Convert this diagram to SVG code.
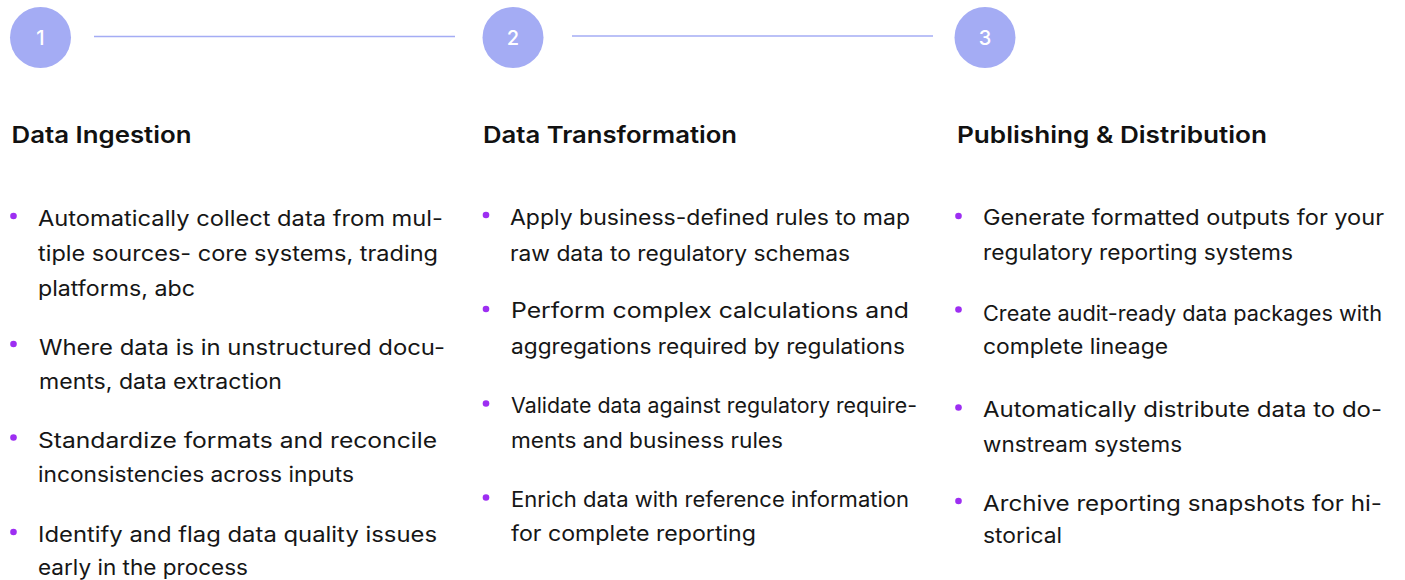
<svg xmlns="http://www.w3.org/2000/svg" width="1405" height="580" viewBox="0 0 1405 580">
<style>
.step{fill:#A4ACF4}
.num{fill:#ffffff;font-family:Inter,"Liberation Sans",sans-serif;font-size:20px;font-weight:500;text-anchor:middle}
.conn{stroke:#A4ACF4;stroke-width:1.6;fill:none}
.h{fill:#111111;font-family:Inter,"Liberation Sans",sans-serif;font-size:22.5px;font-weight:600}
.t{fill:#161616;font-family:Inter,"Liberation Sans",sans-serif;font-size:21px;font-weight:400}
.dot{fill:#9D2EF2}
</style>
<rect width="1405" height="580" fill="#ffffff"/>
<g id="connectors">
<line class="conn" x1="94" y1="36.5" x2="455" y2="36.5"/>
<line class="conn" x1="572" y1="36" x2="933" y2="36"/>
</g>
<g id="step1">
<circle class="step" cx="40.5" cy="37.5" r="30.5"/>
<text class="num" x="40.5" y="45">1</text>
<text class="h" x="11.5" y="143" textLength="180" lengthAdjust="spacingAndGlyphs">Data Ingestion</text>
<circle class="dot" cx="13.5" cy="216" r="3.3"/>
<text class="t" x="38" y="226" textLength="405" lengthAdjust="spacingAndGlyphs">Automatically collect data from mul-</text>
<text class="t" x="38" y="261" textLength="400" lengthAdjust="spacingAndGlyphs">tiple sources- core systems, trading</text>
<text class="t" x="38" y="296" textLength="157" lengthAdjust="spacingAndGlyphs">platforms, abc</text>
<circle class="dot" cx="13.5" cy="344" r="3.3"/>
<text class="t" x="39" y="355" textLength="406" lengthAdjust="spacingAndGlyphs">Where data is in unstructured docu-</text>
<text class="t" x="39" y="389" textLength="243" lengthAdjust="spacingAndGlyphs">ments, data extraction</text>
<circle class="dot" cx="13.5" cy="437.5" r="3.3"/>
<text class="t" x="38" y="448" textLength="399" lengthAdjust="spacingAndGlyphs">Standardize formats and reconcile</text>
<text class="t" x="38" y="482" textLength="316" lengthAdjust="spacingAndGlyphs">inconsistencies across inputs</text>
<circle class="dot" cx="13.5" cy="532" r="3.3"/>
<text class="t" x="38" y="542" textLength="399" lengthAdjust="spacingAndGlyphs">Identify and flag data quality issues</text>
<text class="t" x="38" y="575" textLength="210" lengthAdjust="spacingAndGlyphs">early in the process</text>
</g>
<g id="step2">
<circle class="step" cx="513" cy="37.5" r="30.5"/>
<text class="num" x="513" y="45">2</text>
<text class="h" x="483" y="143" textLength="254" lengthAdjust="spacingAndGlyphs">Data Transformation</text>
<circle class="dot" cx="486" cy="215" r="3.3"/>
<text class="t" x="510" y="225" textLength="400" lengthAdjust="spacingAndGlyphs">Apply business-defined rules to map</text>
<text class="t" x="510" y="261" textLength="340" lengthAdjust="spacingAndGlyphs">raw data to regulatory schemas</text>
<circle class="dot" cx="486" cy="309" r="3.3"/>
<text class="t" x="511" y="318" textLength="398" lengthAdjust="spacingAndGlyphs">Perform complex calculations and</text>
<text class="t" x="511" y="354" textLength="394" lengthAdjust="spacingAndGlyphs">aggregations required by regulations</text>
<circle class="dot" cx="486" cy="403.5" r="3.3"/>
<text class="t" x="511" y="413" textLength="406" lengthAdjust="spacingAndGlyphs">Validate data against regulatory require-</text>
<text class="t" x="511" y="448" textLength="272" lengthAdjust="spacingAndGlyphs">ments and business rules</text>
<circle class="dot" cx="486" cy="497.5" r="3.3"/>
<text class="t" x="511" y="507" textLength="398" lengthAdjust="spacingAndGlyphs">Enrich data with reference information</text>
<text class="t" x="511" y="541" textLength="245" lengthAdjust="spacingAndGlyphs">for complete reporting</text>
</g>
<g id="step3">
<circle class="step" cx="985" cy="37.5" r="30.5"/>
<text class="num" x="985" y="45">3</text>
<text class="h" x="957" y="143" textLength="310" lengthAdjust="spacingAndGlyphs">Publishing &amp; Distribution</text>
<circle class="dot" cx="958.5" cy="216" r="3.3"/>
<text class="t" x="983" y="225" textLength="401" lengthAdjust="spacingAndGlyphs">Generate formatted outputs for your</text>
<text class="t" x="983" y="260" textLength="310" lengthAdjust="spacingAndGlyphs">regulatory reporting systems</text>
<circle class="dot" cx="958.5" cy="309.5" r="3.3"/>
<text class="t" x="983" y="321" textLength="399" lengthAdjust="spacingAndGlyphs">Create audit-ready data packages with</text>
<text class="t" x="983" y="354" textLength="185" lengthAdjust="spacingAndGlyphs">complete lineage</text>
<circle class="dot" cx="958.5" cy="407.5" r="3.3"/>
<text class="t" x="983" y="417" textLength="399" lengthAdjust="spacingAndGlyphs">Automatically distribute data to do-</text>
<text class="t" x="983" y="452" textLength="199" lengthAdjust="spacingAndGlyphs">wnstream systems</text>
<circle class="dot" cx="958.5" cy="501" r="3.3"/>
<text class="t" x="983" y="511" textLength="399" lengthAdjust="spacingAndGlyphs">Archive reporting snapshots for hi-</text>
<text class="t" x="983" y="543" textLength="79" lengthAdjust="spacingAndGlyphs">storical</text>
</g>
</svg>
